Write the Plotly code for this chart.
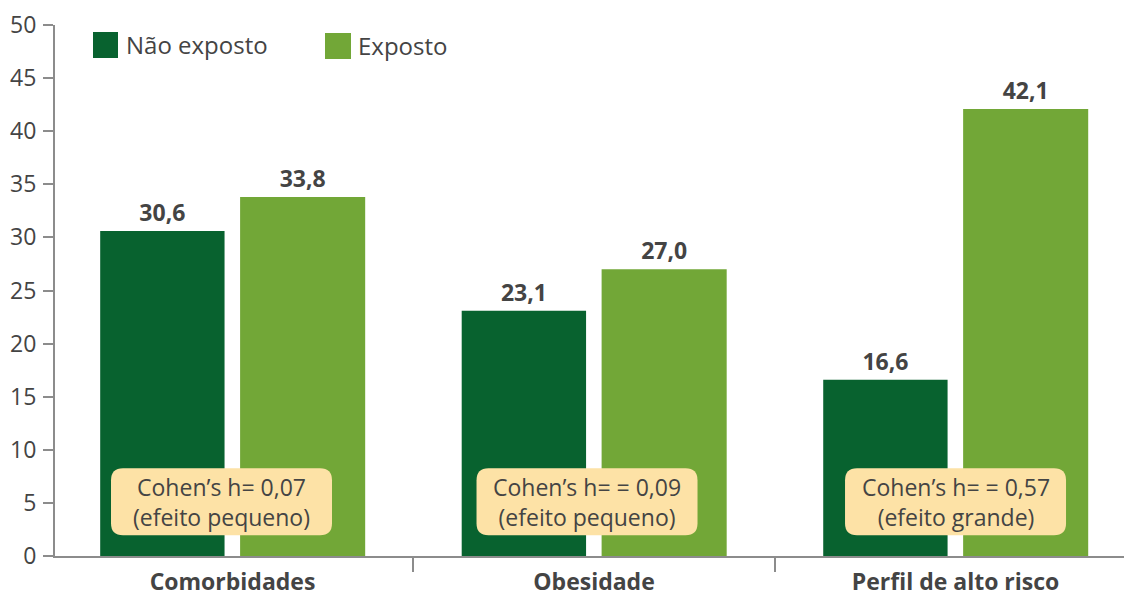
import plotly.graph_objects as go

categories = ["Comorbidades", "Obesidade", "Perfil de alto risco"]
nao_exposto = [30.6, 23.1, 16.6]
exposto = [33.8, 27.0, 42.1]
series_names = ["Não exposto", "Exposto"]
cohen_labels = ["Cohen’s h= 0,07<br>(efeito pequeno)",
                "Cohen’s h= = 0,09<br>(efeito pequeno)",
                "Cohen’s h= = 0,57<br>(efeito grande)"]
y_ticks = [0, 5, 10, 15, 20, 25, 30, 35, 40, 45, 50]

FONT = "Open Sans"
TXT = "#444444"
AX = "#8c8c8c"
DARK = "#08622f"
LIGHT = "#72a737"
BOX = "#fde2a6"

W, H = 1124, 596
ML, MR, MT, MB = 55, 0, 25, 40
PW, PH = W - ML - MR, H - MT - MB

fig = go.Figure()
fig.add_trace(go.Bar(
    x=categories, y=nao_exposto, name=series_names[0],
    marker=dict(color=DARK, line=dict(width=0)),
    width=0.344, offset=-0.366,
    texttemplate="%{y:.1f}", textposition="outside",
    textfont=dict(family=FONT, size=23, color=TXT, weight="bold"),
    cliponaxis=False, showlegend=False,
))
fig.add_trace(go.Bar(
    x=categories, y=exposto, name=series_names[1],
    marker=dict(color=LIGHT, line=dict(width=0)),
    width=0.346, offset=0.021,
    texttemplate="%{y:.1f}", textposition="outside",
    textfont=dict(family=FONT, size=23, color=TXT, weight="bold"),
    cliponaxis=False, showlegend=False,
))

# Cohen's h boxes (rounded rectangles + text)
bw, bh, r = 221, 67, 12
shifts = [-11, -7, 0]
box_y = 5.1
for i, (cat, lab) in enumerate(zip(categories, cohen_labels)):
    dx = shifts[i]
    x0, x1 = dx - bw / 2, dx + bw / 2
    y0, y1 = -bh / 2, bh / 2
    path = (f"M{x0+r},{y0} L{x1-r},{y0} Q{x1},{y0} {x1},{y0+r} "
            f"L{x1},{y1-r} Q{x1},{y1} {x1-r},{y1} L{x0+r},{y1} "
            f"Q{x0},{y1} {x0},{y1-r} L{x0},{y0+r} Q{x0},{y0} {x0+r},{y0} Z")
    fig.add_shape(type="path", xref="x", yref="y", xsizemode="pixel",
                  ysizemode="pixel", xanchor=i, yanchor=box_y, path=path,
                  fillcolor=BOX, line=dict(width=0), layer="above")
    fig.add_annotation(x=i, y=box_y, xref="x", yref="y", text=lab,
                       showarrow=False, xshift=dx, align="center",
                       font=dict(family=FONT, size=23, color=TXT))

# manual legend
def px_x(p):
    return (p - ML) / PW

def px_y(p):
    return (H - MB - p) / PH

legend_items = [(93, 118, 32, 58, DARK, 124), (325, 351, 33, 59, LIGHT, 356)]
for (lx0, lx1, ly0, ly1, col, tx), name in zip(legend_items, series_names):
    fig.add_shape(type="rect", xref="paper", yref="paper",
                  x0=px_x(lx0), x1=px_x(lx1), y0=px_y(ly1), y1=px_y(ly0),
                  fillcolor=col, line=dict(width=0))
    fig.add_annotation(xref="paper", yref="paper", x=px_x(tx),
                       y=px_y((ly0 + ly1) / 2), xanchor="left", yanchor="middle",
                       text=name, showarrow=False,
                       font=dict(family=FONT, size=24, color=TXT))

# tick at left end of x axis
fig.add_shape(type="line", xref="paper", yref="y", x0=0, x1=0,
              ysizemode="pixel", yanchor=0, y0=0, y1=-14,
              line=dict(color=AX, width=2))

fig.update_layout(
    width=W, height=H,
    margin=dict(l=ML, r=MR, t=MT, b=MB),
    plot_bgcolor="white", paper_bgcolor="white",
    separators=",.",
    barmode="overlay",
    font=dict(family=FONT, color=TXT),
    xaxis=dict(type="category", range=[-0.491, 2.466], tickson="boundaries",
               ticks="outside", ticklen=14, tickwidth=2, tickcolor=AX,
               showline=True, linecolor=AX, linewidth=2, showgrid=False,
               ticklabelstandoff=4,
               tickfont=dict(family=FONT, size=23, color=TXT, weight="bold")),
    yaxis=dict(range=[0, 50], tickvals=y_ticks, ticks="outside", ticklen=10,
               tickwidth=2, tickcolor=AX, showline=True, linecolor=AX,
               linewidth=2, showgrid=False, zeroline=False,
               ticklabelstandoff=2,
               tickfont=dict(family=FONT, size=23, color=TXT)),
)

fig.write_html("out.html",
               config={"displayModeBar": False},
               post_script="document.body.style.margin='0';"
                           "document.body.style.padding='0';")
